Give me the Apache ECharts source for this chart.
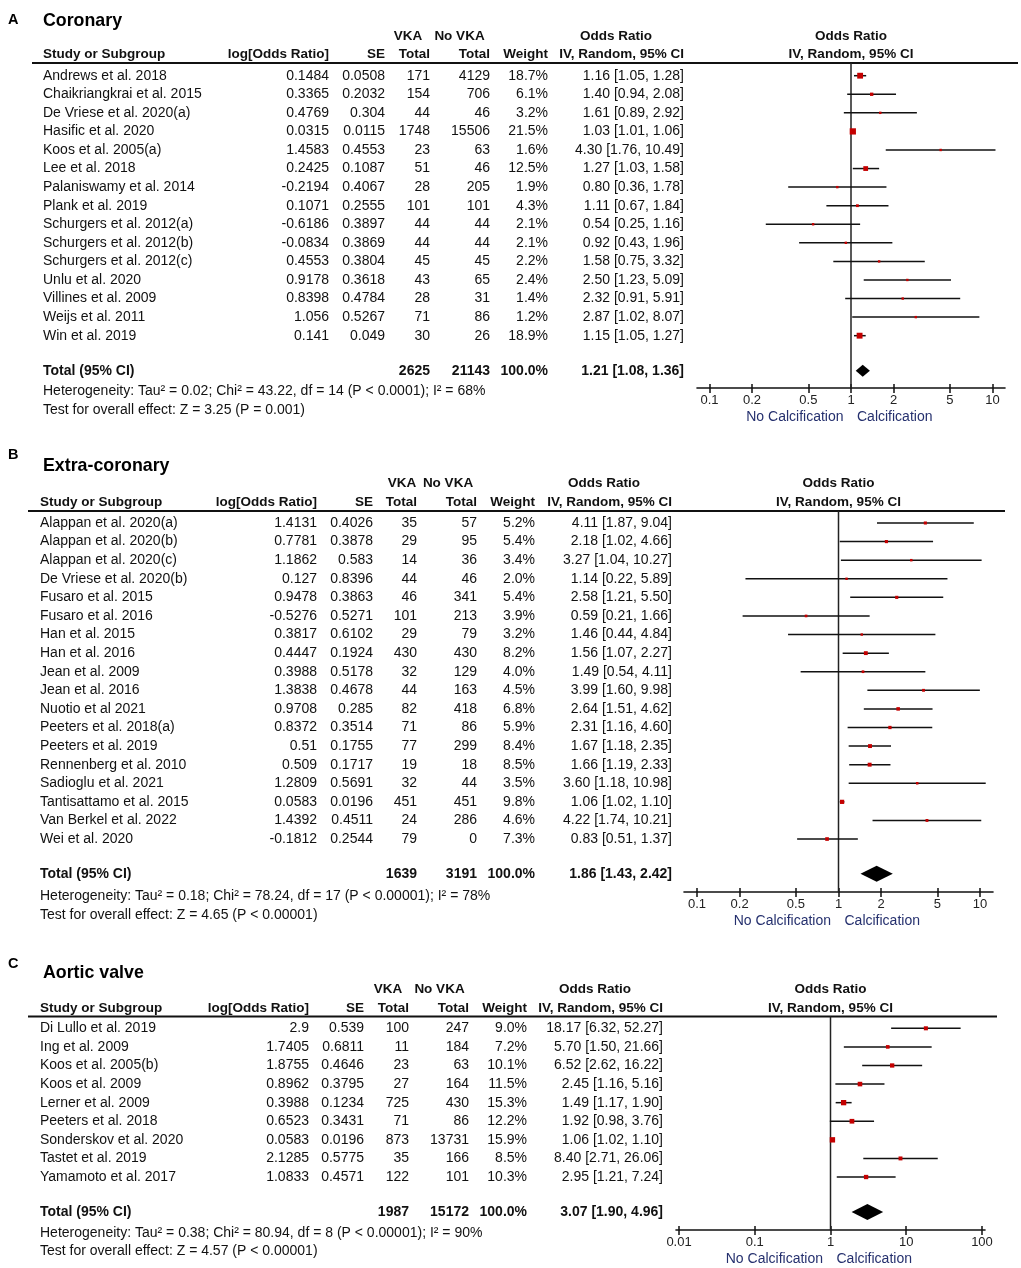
<!DOCTYPE html>
<html><head><meta charset="utf-8">
<script src="https://cdn.jsdelivr.net/npm/echarts@6/dist/echarts.min.js"></script>
<style>html,body{margin:0;padding:0;background:#fff}#c{width:1021px;height:1268px}</style>
</head><body><div id="c"></div>
<script>
// ---------- Panel A: Coronary ----------
const studiesA = ["Andrews et al. 2018","Chaikriangkrai et al. 2015","De Vriese et al. 2020(a)","Hasific et al. 2020","Koos et al. 2005(a)","Lee et al. 2018","Palaniswamy et al. 2014","Plank et al. 2019","Schurgers et al. 2012(a)","Schurgers et al. 2012(b)","Schurgers et al. 2012(c)","Unlu et al. 2020","Villines et al. 2009","Weijs et al. 2011","Win et al. 2019"];
const logOrA = [0.1484,0.3365,0.4769,0.0315,1.4583,0.2425,-0.2194,0.1071,-0.6186,-0.0834,0.4553,0.9178,0.8398,1.056,0.141];
const seA = [0.0508,0.2032,0.304,0.0115,0.4553,0.1087,0.4067,0.2555,0.3897,0.3869,0.3804,0.3618,0.4784,0.5267,0.049];
const vkaA = [171,154,44,1748,23,51,28,101,44,44,45,43,28,71,30];
const noVkaA = [4129,706,46,15506,63,46,205,101,44,44,45,65,31,86,26];
const weightA = [18.7,6.1,3.2,21.5,1.6,12.5,1.9,4.3,2.1,2.1,2.2,2.4,1.4,1.2,18.9];
const orA = [1.16,1.40,1.61,1.03,4.30,1.27,0.80,1.11,0.54,0.92,1.58,2.50,2.32,2.87,1.15];
const loA = [1.05,0.94,0.89,1.01,1.76,1.03,0.36,0.67,0.25,0.43,0.75,1.23,0.91,1.02,1.05];
const hiA = [1.28,2.08,2.92,1.06,10.49,1.58,1.78,1.84,1.16,1.96,3.32,5.09,5.91,8.07,1.27];
const totalCountsA = [2625,21143];
const pooledA = [1.21,1.08,1.36];
const hetA = "Heterogeneity: Tau\u00b2 = 0.02; Chi\u00b2 = 43.22, df = 14 (P < 0.0001); I\u00b2 = 68%";
const testA = "Test for overall effect: Z = 3.25 (P = 0.001)";

// ---------- Panel B: Extra-coronary ----------
const studiesB = ["Alappan et al. 2020(a)","Alappan et al. 2020(b)","Alappan et al. 2020(c)","De Vriese et al. 2020(b)","Fusaro et al. 2015","Fusaro et al. 2016","Han et al. 2015","Han et al. 2016","Jean et al. 2009","Jean et al. 2016","Nuotio et al 2021","Peeters et al. 2018(a)","Peeters et al. 2019","Rennenberg et al. 2010","Sadioglu et al. 2021","Tantisattamo et al. 2015","Van Berkel et al. 2022","Wei et al. 2020"];
const logOrB = [1.4131,0.7781,1.1862,0.127,0.9478,-0.5276,0.3817,0.4447,0.3988,1.3838,0.9708,0.8372,0.51,0.509,1.2809,0.0583,1.4392,-0.1812];
const seB = [0.4026,0.3878,0.583,0.8396,0.3863,0.5271,0.6102,0.1924,0.5178,0.4678,0.285,0.3514,0.1755,0.1717,0.5691,0.0196,0.4511,0.2544];
const vkaB = [35,29,14,44,46,101,29,430,32,44,82,71,77,19,32,451,24,79];
const noVkaB = [57,95,36,46,341,213,79,430,129,163,418,86,299,18,44,451,286,0];
const weightB = [5.2,5.4,3.4,2.0,5.4,3.9,3.2,8.2,4.0,4.5,6.8,5.9,8.4,8.5,3.5,9.8,4.6,7.3];
const orB = [4.11,2.18,3.27,1.14,2.58,0.59,1.46,1.56,1.49,3.99,2.64,2.31,1.67,1.66,3.60,1.06,4.22,0.83];
const loB = [1.87,1.02,1.04,0.22,1.21,0.21,0.44,1.07,0.54,1.60,1.51,1.16,1.18,1.19,1.18,1.02,1.74,0.51];
const hiB = [9.04,4.66,10.27,5.89,5.50,1.66,4.84,2.27,4.11,9.98,4.62,4.60,2.35,2.33,10.98,1.10,10.21,1.37];
const totalCountsB = [1639,3191];
const pooledB = [1.86,1.43,2.42];
const hetB = "Heterogeneity: Tau\u00b2 = 0.18; Chi\u00b2 = 78.24, df = 17 (P < 0.00001); I\u00b2 = 78%";
const testB = "Test for overall effect: Z = 4.65 (P < 0.00001)";

// ---------- Panel C: Aortic valve ----------
const studiesC = ["Di Lullo et al. 2019","Ing et al. 2009","Koos et al. 2005(b)","Koos et al. 2009","Lerner et al. 2009","Peeters et al. 2018","Sonderskov et al. 2020","Tastet et al. 2019","Yamamoto et al. 2017"];
const logOrC = [2.9,1.7405,1.8755,0.8962,0.3988,0.6523,0.0583,2.1285,1.0833];
const seC = [0.539,0.6811,0.4646,0.3795,0.1234,0.3431,0.0196,0.5775,0.4571];
const vkaC = [100,11,23,27,725,71,873,35,122];
const noVkaC = [247,184,63,164,430,86,13731,166,101];
const weightC = [9.0,7.2,10.1,11.5,15.3,12.2,15.9,8.5,10.3];
const orC = [18.17,5.70,6.52,2.45,1.49,1.92,1.06,8.40,2.95];
const loC = [6.32,1.50,2.62,1.16,1.17,0.98,1.02,2.71,1.21];
const hiC = [52.27,21.66,16.22,5.16,1.90,3.76,1.10,26.06,7.24];
const totalCountsC = [1987,15172];
const pooledC = [3.07,1.90,4.96];
const hetC = "Heterogeneity: Tau\u00b2 = 0.38; Chi\u00b2 = 80.94, df = 8 (P < 0.00001); I\u00b2 = 90%";
const testC = "Test for overall effect: Z = 4.57 (P < 0.00001)";

// ---------- Axis ticks ----------
const ticksAB = [0.1,0.2,0.5,1,2,5,10];
const ticksC = [0.01,0.1,1,10,100];

const FONT = '"Liberation Sans", Arial, Helvetica, sans-serif';
const TXT = '#161616';

const panels = [
  {letter:'A', title:'Coronary', studies:studiesA, logOr:logOrA, se:seA, vka:vkaA, noVka:noVkaA, weight:weightA, or:orA, lo:loA, hi:hiA, counts:totalCountsA, pooled:pooledA, het:hetA, test:testA, ticks:ticksAB,
   L:{y0:75.7, d:18.57, top:63, bot:388, totalRow:15.89, plotL:697, plotR:1005, logHalf:1.088,
      cols:{study:43, logOr:329, se:385, vka:430, noVka:490, weight:548, ci:684}, vkaC:408, noVkaC:459.5,
      h1:36, h2:54, titleY:21.5, letterY:20, hetY:391, testY:410, lineL:32, lineR:1018, diamondH:12}},
  {letter:'B', title:'Extra-coronary', studies:studiesB, logOr:logOrB, se:seB, vka:vkaB, noVka:noVkaB, weight:weightB, or:orB, lo:loB, hi:hiB, counts:totalCountsB, pooled:pooledB, het:hetB, test:testB, ticks:ticksAB,
   L:{y0:523, d:18.59, top:511, bot:892, totalRow:18.87, plotL:684, plotR:993, logHalf:1.092,
      cols:{study:40, logOr:317, se:373, vka:417, noVka:477, weight:535, ci:672}, vkaC:402, noVkaC:448,
      h1:483, h2:502, titleY:466.5, letterY:455, hetY:896, testY:915, lineL:28, lineR:1005, diamondH:16}},
  {letter:'C', title:'Aortic valve', studies:studiesC, logOr:logOrC, se:seC, vka:vkaC, noVka:noVkaC, weight:weightC, or:orC, lo:loC, hi:hiC, counts:totalCountsC, pooled:pooledC, het:hetC, test:testC, ticks:ticksC,
   L:{y0:1028.3, d:18.59, top:1016.5, bot:1230, totalRow:9.88, plotL:676, plotR:985, logHalf:2.04,
      cols:{study:40, logOr:309, se:364, vka:409, noVka:469, weight:527, ci:663}, vkaC:388, noVkaC:439.5,
      h1:989, h2:1008, titleY:973, letterY:964, hetY:1232.7, testY:1251, lineL:28, lineR:997, diamondH:16}}
];

const W = 1021, H = 1268;
const grid = [], xAxis = [], yAxis = [], series = [], graphic = [];
const fmtCI = (o,l,h) => o.toFixed(2) + ' [' + l.toFixed(2) + ', ' + h.toFixed(2) + ']';

function txt(x, y, text, align, font, fill) {
  return {type:'text', x:x, y:y, silent:true,
    style:{text:text, font:font, fill:fill||TXT, align:align, textAlign:align, verticalAlign:'middle', textVerticalAlign:'middle'}};
}

panels.forEach((P, p) => {
  const L = P.L;
  const yMin = (L.top - L.y0) / L.d, yMax = (L.bot - L.y0) / L.d;
  const gT = grid.length;
  grid.push({left:0, top:L.top, width:W, height:L.bot - L.top});
  const gP = grid.length;
  grid.push({left:L.plotL, top:L.top, width:L.plotR - L.plotL, height:L.bot - L.top});
  const xMin = Math.pow(10, -L.logHalf), xMax = Math.pow(10, L.logHalf);
  const xT = xAxis.length;
  xAxis.push({type:'value', gridIndex:gT, min:0, max:W, show:false});
  const xP = xAxis.length;
  const tickFmt = v => String(Number(Number(v).toPrecision(3)));
  xAxis.push({type:'log', gridIndex:gP, min:xMin, max:xMax, position:'bottom',
    axisLine:{show:true, onZero:false, lineStyle:{color:'#111', width:1.6}},
    axisTick:{show:true, length:5, inside:false, lineStyle:{color:'#111', width:1.5}, customValues:P.ticks},
    axisLabel:{show:true, customValues:P.ticks, formatter:tickFmt, fontSize:13, fontFamily:FONT, color:'#222', margin:6},
    splitLine:{show:false}, minorTick:{show:false}, minorSplitLine:{show:false}});
  xAxis.push({type:'log', gridIndex:gP, min:xMin, max:xMax, position:'bottom', offset:0,
    axisLine:{show:false, onZero:false},
    axisTick:{show:true, length:4, inside:true, lineStyle:{color:'#111', width:1.5}, customValues:P.ticks},
    axisLabel:{show:false}, splitLine:{show:false}});
  const yT = yAxis.length;
  yAxis.push({type:'value', gridIndex:gT, min:yMin, max:yMax, inverse:true, show:false});
  const yP = yAxis.length;
  yAxis.push({type:'value', gridIndex:gP, min:yMin, max:yMax, inverse:true, show:false, splitLine:{show:false}});

  const n = P.studies.length;
  // Table text, one row per study plus total row
  const tableData = [];
  for (let i = 0; i <= n; i++) tableData.push([0, i < n ? i : L.totalRow]);
  series.push({type:'custom', coordinateSystem:'cartesian2d', xAxisIndex:xT, yAxisIndex:yT, silent:true, clip:false,
    data:tableData,
    renderItem:(params, api) => {
      const i = params.dataIndex;
      const row = api.value(1);
      const y = api.coord([0, row])[1];
      const cx = c => api.coord([c, row])[0];
      const C = L.cols;
      let cells, font;
      if (i < n) {
        font = '14px ' + FONT;
        cells = [[C.study,'left',P.studies[i]], [C.logOr,'right',String(P.logOr[i])], [C.se,'right',String(P.se[i])],
          [C.vka,'right',String(P.vka[i])], [C.noVka,'right',String(P.noVka[i])], [C.weight,'right',P.weight[i].toFixed(1)+'%'],
          [C.ci,'right',fmtCI(P.or[i],P.lo[i],P.hi[i])]];
      } else {
        font = 'bold 14px ' + FONT;
        cells = [[C.study,'left','Total (95% CI)'], [C.vka,'right',String(P.counts[0])], [C.noVka,'right',String(P.counts[1])],
          [C.weight,'right','100.0%'], [C.ci,'right',fmtCI(P.pooled[0],P.pooled[1],P.pooled[2])]];
      }
      return {type:'group', children:cells.map(c => txt(cx(c[0]), y, c[2], c[1], font, '#111'))};
    }});

  // Reference line at OR = 1
  series.push({type:'custom', coordinateSystem:'cartesian2d', xAxisIndex:xP, yAxisIndex:yP, silent:true, clip:false, z:1,
    data:[[1, yMin],[1, yMax]],
    renderItem:(params, api) => {
      if (params.dataIndex !== 0) return null;
      const a = api.coord([1, yMin]), b = api.coord([1, yMax]);
      return {type:'line', shape:{x1:a[0], y1:a[1], x2:b[0], y2:b[1]}, style:{stroke:'#222', lineWidth:1.5}};
    }});

  // Study estimates and pooled diamond
  const plotData = P.or.map((v, i) => [v, i]).concat([[P.pooled[0], L.totalRow]]);
  series.push({type:'custom', coordinateSystem:'cartesian2d', xAxisIndex:xP, yAxisIndex:yP, silent:true, clip:false, z:3,
    data:plotData,
    renderItem:(params, api) => {
      const i = params.dataIndex;
      const row = api.value(1);
      if (i < n) {
        const a = api.coord([P.lo[i], row]), b = api.coord([P.hi[i], row]), c = api.coord([P.or[i], row]);
        const s = Math.max(2.4, 1.35 * Math.sqrt(P.weight[i]));
        return {type:'group', children:[
          {type:'line', shape:{x1:a[0], y1:a[1], x2:b[0], y2:b[1]}, style:{stroke:'#111', lineWidth:1.5}},
          {type:'rect', shape:{x:c[0]-s/2, y:c[1]-s/2, width:s, height:s}, style:{fill:'#c40000'}}
        ]};
      }
      const l = api.coord([P.pooled[1], row]), r = api.coord([P.pooled[2], row]), m = api.coord([P.pooled[0], row]);
      const h = L.diamondH / 2;
      return {type:'polygon', shape:{points:[[l[0],m[1]],[m[0],m[1]-h],[r[0],m[1]],[m[0],m[1]+h]]}, style:{fill:'#000'}};
    }});

  // Titles, headers, footers
  const C = L.cols;
  const x1 = (L.plotL + L.plotR) / 2;
  const hb = 'bold 13.5px ' + FONT;
  graphic.push(txt(8, L.letterY, P.letter, 'left', 'bold 14.5px ' + FONT, '#000'));
  graphic.push(txt(43, L.titleY, P.title, 'left', 'bold 17.8px ' + FONT, '#000'));
  graphic.push(txt(L.vkaC, L.h1, 'VKA', 'center', hb, '#111'));
  graphic.push(txt(L.noVkaC, L.h1, 'No VKA', 'center', hb, '#111'));
  graphic.push(txt(C.ci - 68, L.h1, 'Odds Ratio', 'center', hb, '#111'));
  graphic.push(txt(x1, L.h1, 'Odds Ratio', 'center', hb, '#111'));
  graphic.push(txt(C.study, L.h2, 'Study or Subgroup', 'left', hb, '#111'));
  graphic.push(txt(C.logOr, L.h2, 'log[Odds Ratio]', 'right', hb, '#111'));
  graphic.push(txt(C.se, L.h2, 'SE', 'right', hb, '#111'));
  graphic.push(txt(C.vka, L.h2, 'Total', 'right', hb, '#111'));
  graphic.push(txt(C.noVka, L.h2, 'Total', 'right', hb, '#111'));
  graphic.push(txt(C.weight, L.h2, 'Weight', 'right', hb, '#111'));
  graphic.push(txt(C.ci, L.h2, 'IV, Random, 95% CI', 'right', hb, '#111'));
  graphic.push(txt(x1, L.h2, 'IV, Random, 95% CI', 'center', hb, '#111'));
  graphic.push({type:'line', silent:true, shape:{x1:L.lineL, y1:L.top, x2:L.lineR, y2:L.top}, style:{stroke:'#111', lineWidth:2}});
  graphic.push(txt(C.study, L.hetY, P.het, 'left', '14px ' + FONT, '#111'));
  graphic.push(txt(C.study, L.testY, P.test, 'left', '14px ' + FONT, '#111'));
  graphic.push(txt(x1 - 7.5, L.bot + 29, 'No Calcification', 'right', '14px ' + FONT, '#25306e'));
  graphic.push(txt(x1 + 6, L.bot + 29, 'Calcification', 'left', '14px ' + FONT, '#25306e'));
});

const chart = echarts.init(document.getElementById('c'), null, {renderer:'canvas', width:W, height:H});
chart.setOption({animation:false, backgroundColor:'#fff', grid:grid, xAxis:xAxis, yAxis:yAxis, series:series, graphic:{elements:graphic}});
</script></body></html>
